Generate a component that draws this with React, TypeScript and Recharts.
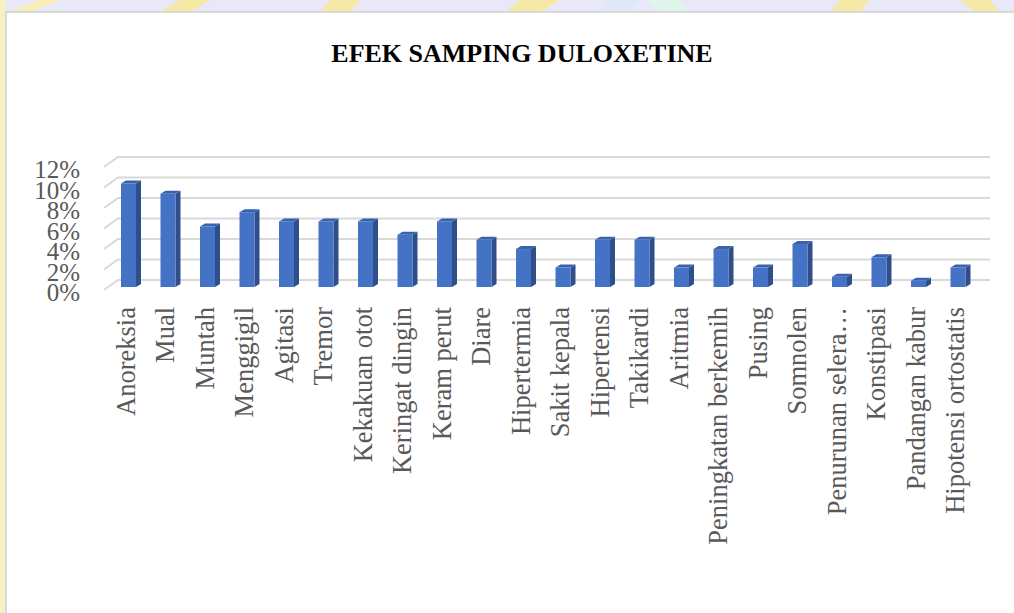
import { BarChart, Bar, XAxis, YAxis, CartesianGrid } from "recharts";

const categories = [
  "Anoreksia",
  "Mual",
  "Muntah",
  "Menggigil",
  "Agitasi",
  "Tremor",
  "Kekakuan otot",
  "Keringat dingin",
  "Keram perut",
  "Diare",
  "Hipertermia",
  "Sakit kepala",
  "Hipertensi",
  "Takikardi",
  "Aritmia",
  "Peningkatan berkemih",
  "Pusing",
  "Somnolen",
  "Penurunan selera…",
  "Konstipasi",
  "Pandangan kabur",
  "Hipotensi ortostatis",
];

// percentages
const values = [
  10.1, 9.1, 5.9, 7.3, 6.4, 6.4, 6.4, 5.1, 6.4, 4.6, 3.7, 1.9, 4.6, 4.6, 1.9,
  3.7, 1.9, 4.2, 1.0, 2.9, 0.6, 1.9,
];

const yTicks = [0, 2, 4, 6, 8, 10, 12];

const data = categories.map((name, i) => ({ name, value: values[i] }));

const W = 1014;
const H = 613;
const serif = "'Liberation Serif', 'Times New Roman', serif";
const labelColor = "#595959";

// 3d column: front face + side + top
const Column = (props: any) => {
  const { x, y, width, height } = props;
  if (height == null || width == null) return null;
  const d = 5;
  const u = 3;
  return (
    <g>
      <polygon
        points={`${x + width},${y} ${x + width + d},${y - u} ${x + width + d},${y + height - u} ${x + width},${y + height}`}
        fill="#2F4F8A"
      />
      <polygon
        points={`${x},${y} ${x + d},${y - u} ${x + width + d},${y - u} ${x + width},${y}`}
        fill="#3A62AC"
      />
      <rect x={x} y={y} width={width} height={height} fill="#4472C4" />
    </g>
  );
};

const GridLine = (props: any) => {
  const { y1, x1, index } = props;
  return (
    <path
      key={`g-${index}`}
      d={`M ${x1 - 5} ${y1 + 3} L ${x1 + 9} ${y1 - 7} L 990 ${y1 - 7}`}
      fill="none"
      stroke="#d9d9d9"
      strokeWidth={2}
    />
  );
};

const YTick = (props: any) => {
  const { y, payload } = props;
  return (
    <text
      x={80}
      y={y + 14}
      textAnchor="end"
      fontFamily={serif}
      fontSize={25}
      fill={labelColor}
    >
      {`${payload.value}%`}
    </text>
  );
};

const XTick = (props: any) => {
  const { x, payload } = props;
  return (
    <text
      x={0}
      y={0}
      transform={`translate(${x + 6}, 307) rotate(-90)`}
      textAnchor="end"
      fontFamily={serif}
      fontSize={26.5}
      fill={labelColor}
    >
      {payload.value}
    </text>
  );
};

const Backdrop = () => (
  <svg
    width={W}
    height={H}
    style={{ position: "absolute", left: 0, top: 0 }}
  >
    <rect x={0} y={0} width={W} height={H} fill="#fbfaf0" />
    <rect x={0} y={0} width={W} height={12} fill="#e9e8f8" />
    <polygon points="40,0 60,0 30,12 10,12" fill="#f8eeb0" />
    <polygon points="180,0 210,0 190,12 160,12" fill="#f6e9a6" />
    <polygon points="330,0 360,0 350,12 320,12" fill="#f6e9a6" />
    <polygon points="520,0 560,0 540,12 505,12" fill="#f6e9a6" />
    <polygon points="610,0 640,0 630,12 600,12" fill="#dfe8f6" />
    <polygon points="645,0 680,0 690,12 660,12" fill="#dff4ea" />
    <polygon points="840,0 870,0 860,12 830,12" fill="#f6e9a6" />
    <polygon points="960,0 990,0 1000,12 975,12" fill="#f6e9a6" />
    <rect x={0} y={0} width={6} height={H} fill="#f7f0c4" />
    <rect
      x={6}
      y={12}
      width={W + 20}
      height={H + 20}
      fill="#ffffff"
      stroke="#d9d9d9"
      strokeWidth={2}
    />
    <text
      x={522}
      y={62}
      textAnchor="middle"
      fontFamily={serif}
      fontWeight="bold"
      fontSize={26}
      fill="#000000"
    >
      EFEK SAMPING DULOXETINE
    </text>
  </svg>
);

export default function App() {
  return (
    <div
      style={{
        position: "absolute",
        left: 0,
        top: 0,
        width: W,
        height: H,
        overflow: "hidden",
        background: "#ffffff",
      }}
    >
      <Backdrop />
      <div style={{ position: "absolute", left: 0, top: 0 }}>
        <BarChart
          width={W}
          height={H}
          data={data}
          margin={{ top: 164, right: 36, bottom: 296, left: 49 }}
          barSize={15}
        >
          <CartesianGrid vertical={false} horizontal={GridLine} />
          <XAxis
            dataKey="name"
            interval={0}
            axisLine={false}
            tickLine={false}
            height={30}
            tick={XTick}
          />
          <YAxis
            width={60}
            domain={[0, 12]}
            ticks={yTicks}
            interval={0}
            axisLine={false}
            tickLine={false}
            tick={YTick}
          />
          <Bar dataKey="value" shape={Column} isAnimationActive={false} />
        </BarChart>
      </div>
    </div>
  );
}
